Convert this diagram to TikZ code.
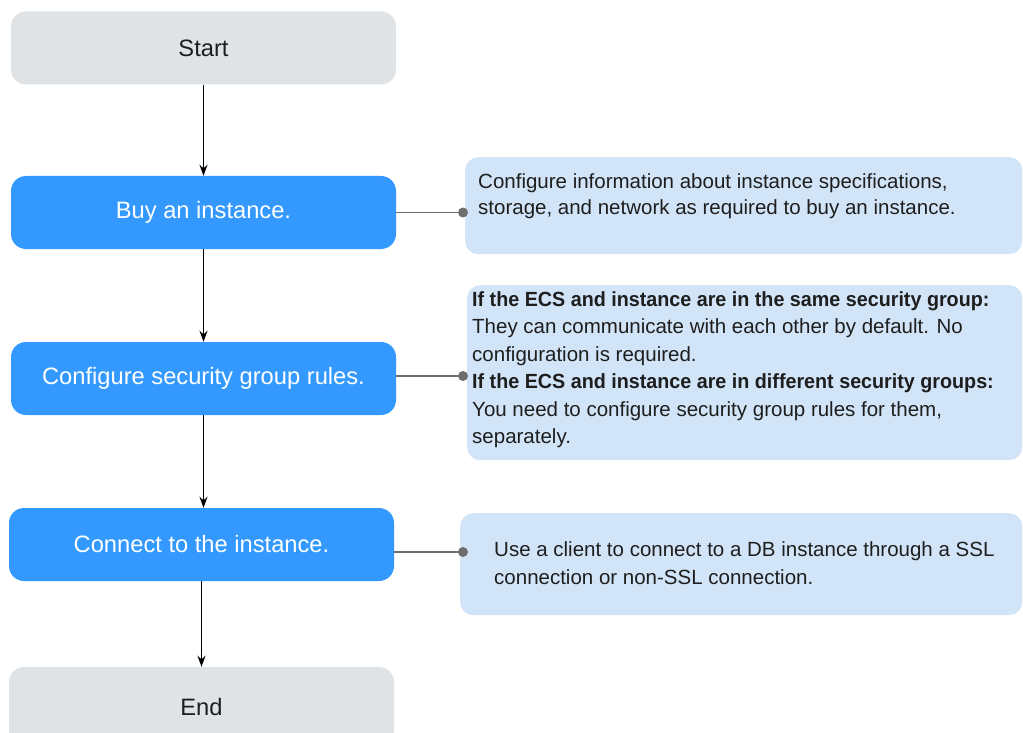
\documentclass[tikz,border=0pt]{standalone}
\usepackage{fontspec}
\setmainfont{Liberation Sans}
\usetikzlibrary{arrows.meta,positioning}
\definecolor{grayfill}{HTML}{E0E3E6}
\definecolor{bluefill}{HTML}{3399FF}
\definecolor{descfill}{HTML}{D2E5F8}
\definecolor{conncol}{HTML}{6E6E6E}
\definecolor{textdark}{HTML}{1E1E1E}
\newcommand{\bl}[1]{\scalebox{0.962}[1]{\textbf{#1}}}
\tikzset{
  stepbox/.style={rectangle, rounded corners=15pt, minimum width=385pt, minimum height=73pt, inner sep=0pt, font=\fontsize{23.7}{27}\selectfont},
  termbox/.style={stepbox, fill=grayfill, text=textdark},
  actbox/.style={stepbox, fill=bluefill, text=white},
  descbox/.style={rectangle, rounded corners=13pt, fill=descfill, inner sep=0pt, anchor=north west},
  desctext/.style={anchor=north west, inner sep=0pt, align=left, text=textdark},
  flow/.style={draw=black, line width=1.6pt, -{Stealth[length=11pt,width=8pt]}},
  link/.style={draw=conncol, line width=1.4pt},
  dot/.style={fill=conncol}
}
\begin{document}
\begin{tikzpicture}[x=1pt,y=-1pt]
\useasboundingbox (0,0) rectangle (1023,733);
% main flow
\node[termbox] (start) at (203.5,48) {Start};
\node[actbox] (buy) at (203.5,212.5) {Buy an instance.};
\node[actbox] (cfg) at (203.5,378.5) {Configure security group rules.};
\node[actbox] (con) at (201.5,544.5) {Connect to the instance.};
\node[termbox, minimum height=80pt] (end) at (201.5,707) {End};
\draw[flow] (start.south) -- (buy.north);
\draw[flow] (buy.south) -- (cfg.north);
\draw[flow] (cfg.south) -- (cfg.south |- con.north);
\draw[flow] (con.south) -- (end.north);
% description boxes
\node[descbox, minimum width=557pt, minimum height=97pt] (d1) at (465,157) {};
\node[desctext, font=\fontsize{20.5}{26}\selectfont] (t1) at (478,173)
  {Configure information about instance specifications,\\storage, and network as required to buy an instance.};
\node[descbox, minimum width=555pt, minimum height=175pt] (d2) at (467,285) {};
\node[desctext, font=\fontsize{20.5}{27.5}\selectfont] (t2) at (472,291)
  {\bl{If the ECS and instance are in the same security group:}\\
   They can communicate with each other by default. No\\
   configuration is required.\\
   \bl{If the ECS and instance are in different security groups:}\\
   You need to configure security group rules for them,\\
   separately.};
\node[descbox, minimum width=562pt, minimum height=102pt] (d3) at (460,513) {};
\node[desctext, font=\fontsize{20.5}{28}\selectfont] (t3) at (494,541)
  {Use a client to connect to a DB instance through a SSL\\connection or non-SSL connection.};
% links
\coordinate (p1) at (buy.east -| 463,0);
\coordinate (p2) at ([yshift=2.5pt]cfg.east -| 463,0);
\coordinate (p3) at ([yshift=-7.5pt]con.east -| 463,0);
\draw[link] (buy.east) -- (p1);
\draw[link] ([yshift=2.5pt]cfg.east) -- (p2);
\draw[link] ([yshift=-7.5pt]con.east) -- (p3);
\fill[dot] (p1) circle (5pt);
\fill[dot] (p2) circle (5pt);
\fill[dot] (p3) circle (5pt);
\end{tikzpicture}
\end{document}
